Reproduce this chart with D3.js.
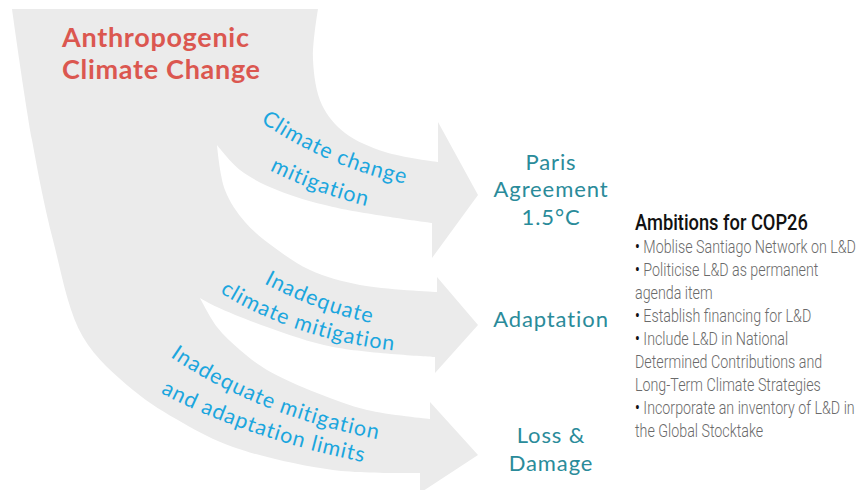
<!DOCTYPE html>
<html>
<head>
<meta charset="utf-8">
<script src="https://cdn.jsdelivr.net/npm/d3@7"></script>
<style>
  html, body { margin: 0; padding: 0; background: #fff; }
  svg { display: block; }
</style>
</head>
<body>
<figure id="flow" style="margin:0"></figure>
<script>
// --- content ---
const sourceLabel = ["Anthropogenic", "Climate Change"];
const pathwayLabels = [
  ["Climate change", "mitigation"],
  ["Inadequate", "climate mitigation"],
  ["Inadequate mitigation", "and adaptation limits"]
];
const outcomes = ["Paris Agreement", "Adaptation", "Loss & Damage"];
const outcomeLines = [["Paris", "Agreement", "1.5°C"], ["Adaptation"], ["Loss &", "Damage"]];
const ambitionsTitle = "Ambitions for COP26";
const ambitions = [
  ["Moblise Santiago Network on L&D"],
  ["Politicise L&D as permanent", "agenda item"],
  ["Establish financing for L&D"],
  ["Include L&D in National", "Determined Contributions and", "Long-Term Climate Strategies"],
  ["Incorporate an inventory of L&D in", "the Global Stocktake"]
];

const width = 859, height = 490;

const svg = d3.select("figure#flow")
  .append("svg")
  .attr("width", width)
  .attr("height", height);

// arrow tips sit on a point scale over the outcomes
const tipX = 478;
const y = d3.scalePoint()
  .domain(outcomes)
  .range([195, 455]);

// arrowhead shapes, relative to each tip
const heads = [
  { backTop: 438, backBot: 432, barbTop: -73, barbBot: 63, shaftTop: -33, shaftBot: 28 },
  { backTop: 437, backBot: 435, barbTop: -48, barbBot: 48, shaftTop: -33, shaftBot: 32 },
  { backTop: 430, backBot: 420, barbTop: -53, barbBot: 38, shaftTop: -36, shaftBot: 18 }
];

const smooth = d3.line().curve(d3.curveCatmullRom.alpha(0.5));
const tail = pts => smooth(pts).replace(/^M[^A-Za-z]*/, "");

function headPts(i) {
  const h = heads[i], ty = y(outcomes[i]);
  return [[h.backTop, ty + h.shaftTop], [h.backTop, ty + h.barbTop], [tipX, ty],
          [h.backBot, ty + h.barbBot], [h.backBot, ty + h.shaftBot]];
}
const L = pts => pts.map(p => "L" + p[0] + "," + p[1]).join("");

const h0 = headPts(0), h1 = headPts(1), h2 = headPts(2);
const cusp1 = [217, 145], cusp2 = [200, 298];

let d = "M12,9L318,9";
d += tail([[318, 9], [313, 60], [322, 105], [345, 133], [385, 152], h0[0]]);
d += L(h0.slice(1));
d += tail([h0[4], [333, 207], [277, 190], [240, 170], cusp1]);
d += tail([cusp1, [225, 190], [245, 222], [275, 248], [310, 270], [360, 285], h1[0]]);
d += L(h1.slice(1));
d += tail([h1[4], [333, 347], [267, 327], [217, 307], cusp2]);
d += tail([cusp2, [217, 327], [240, 350], [267, 370], [317, 393], [367, 410], h2[0]]);
d += L(h2.slice(1));
d += tail([h2[4], [333, 470], [233, 447], [183, 423], [133, 390], [83, 337], [53, 240], [32, 140], [12, 9]]);
d += "Z";

svg.append("path")
  .attr("d", d)
  .attr("fill", "#ebebeb");

// source title
svg.append("g")
  .selectAll("text")
  .data(sourceLabel)
  .enter()
  .append("text")
  .attr("x", 62)
  .attr("y", (t, i) => 47 + i * 32)
  .attr("font-family", "Lato, 'Open Sans', sans-serif")
  .attr("font-weight", 700)
  .attr("font-size", 27)
  .attr("letter-spacing", 0.7)
  .attr("fill", "#db5750")
  .text(t => t);

// curved pathway labels: quadratic centre lines
const labelCurves = [
  [[[246, 102], [332, 166], [430, 180]], [[258, 155], [317, 188], [386, 202]]],
  [[[248, 265], [315, 306], [396, 320]], [[205, 273], [291, 335], [418, 345]]],
  [[[150, 332], [249, 411], [410, 437]], [[138, 371], [241, 433], [395, 460]]]
];
const defs = svg.append("defs");
labelCurves.forEach((pair, i) => pair.forEach((c, j) => {
  defs.append("path")
    .attr("id", "lab" + i + "_" + j)
    .attr("d", "M" + c[0] + "Q" + c[1] + " " + c[2]);
}));

pathwayLabels.forEach((lines, i) => lines.forEach((t, j) => {
  svg.append("text")
    .attr("font-family", "Lato, 'Open Sans', sans-serif")
    .attr("font-size", 21.5)
    .attr("letter-spacing", 0.8)
    .attr("fill", "#1ba6de")
    .attr("dominant-baseline", "central")
    .append("textPath")
    .attr("href", "#lab" + i + "_" + j)
    .attr("startOffset", "50%")
    .attr("text-anchor", "middle")
    .text(t);
}));

// outcome labels
const lh = 27.5;
outcomeLines.forEach((lines, i) => {
  const cy = y(outcomes[i]) - 6;
  svg.append("g")
    .selectAll("text")
    .data(lines)
    .enter()
    .append("text")
    .attr("x", 551)
    .attr("y", (t, j) => cy + (j - (lines.length - 1) / 2) * lh + 8)
    .attr("text-anchor", "middle")
    .attr("font-family", "Lato, 'Open Sans', sans-serif")
    .attr("font-size", 22)
    .attr("letter-spacing", 0.9)
    .attr("fill", "#2a8b9a")
    .text(t => t);
});

// ambitions list: squeeze a normal face to a condensed width
const head = svg.append("g");
const title = head.append("text")
  .attr("x", 0)
  .attr("y", 230)
  .attr("font-family", "Roboto, sans-serif")
  .attr("font-weight", 500)
  .attr("font-size", 22)
  .attr("fill", "#111")
  .text(ambitionsTitle);
const k1 = 173 / title.node().getComputedTextLength();
head.attr("transform", "translate(635,0) scale(" + k1 + ",1)");

const list = svg.append("g");
let row = 0;
ambitions.forEach(item => item.forEach((t, j) => {
  const txt = list.append("text")
    .attr("x", 0)
    .attr("y", 253 + row * 23.0)
    .attr("font-family", "Roboto, sans-serif")
    .attr("font-weight", 300)
    .attr("font-size", 19)
    .attr("fill", "#6a6a6a");
  if (j === 0) txt.append("tspan").attr("fill", "#111").attr("font-weight", 400).text("• ");
  txt.append("tspan").text(t);
  row++;
}));
const k2 = 221 / list.select("text").node().getComputedTextLength();
list.attr("transform", "translate(635,0) scale(" + k2 + ",1)");
</script>
</body>
</html>
